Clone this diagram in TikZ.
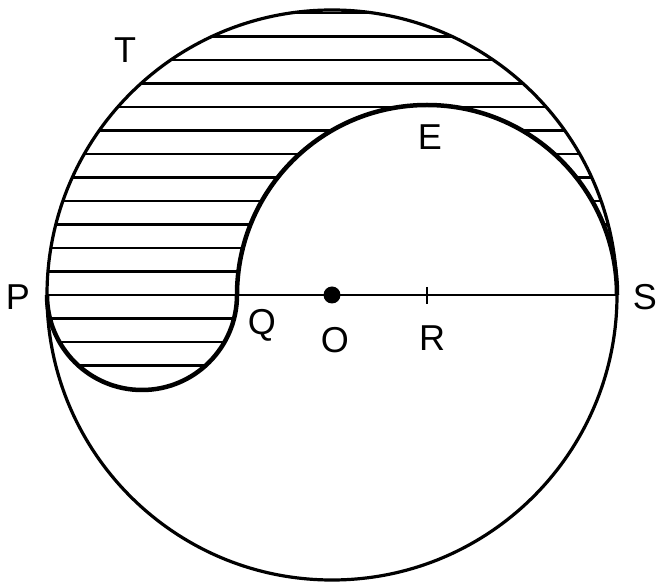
\documentclass[tikz,border=0pt]{standalone}
\usepackage{fontspec}
\setmainfont{Liberation Sans}
\usetikzlibrary{calc}
\begin{document}
\begin{tikzpicture}[x=1pt,y=1pt,
  outline/.style={line width=3.2pt},
  semi/.style={line width=4.5pt},
  hatch/.style={line width=2.4pt},
  lbl/.style={font=\fontsize{36}{42}\selectfont, inner sep=0pt}]
\useasboundingbox (-332,-293) rectangle (329,295);
\coordinate (O) at (0,0);
\coordinate (P) at (-285,0);
\coordinate (S) at (285,0);
\coordinate (Q) at (-95,0);
\coordinate (R) at (95,0);
% hatching
\begin{scope}
  \clip (P) arc[start angle=180,end angle=0,radius=285]
        arc[start angle=0,end angle=180,radius=190]
        arc[start angle=0,end angle=-180,radius=95] -- cycle;
  \foreach \k in {-5,...,13}
    \draw[hatch] (-300,23.5*\k) -- (300,23.5*\k);
\end{scope}
% big circle
\draw[outline] (O) circle[radius=285];
% semicircles
\draw[semi] (S) arc[start angle=0,end angle=180,radius=190]
            arc[start angle=0,end angle=-180,radius=95];
% diameter
\draw[line width=2.8pt] (P) -- (S);
\fill (O) circle[radius=8.5];
\draw[line width=2.2pt] ($(R)+(0,8)$) -- ($(R)+(0,-9)$);
% labels
\node[lbl] (lT) at (-207,245) {T};
\node[lbl] (lE) at (98,158) {E};
\node[lbl] (lP) at (-314,-2) {P};
\node[lbl] (lQ) at (-70,-30) {Q};
\node[lbl] (lO) at (3,-45) {O};
\node[lbl] (lR) at (100,-43) {R};
\node[lbl] (lS) at (313,-2) {S};
\end{tikzpicture}
\end{document}
